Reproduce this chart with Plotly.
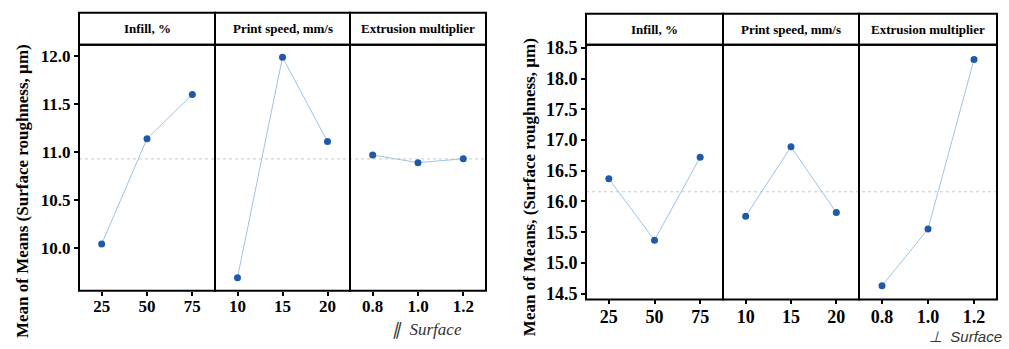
import numpy as np
import plotly.graph_objects as go

# ---------------- data ----------------
factor_names = ["Infill, %", "Print speed, mm/s", "Extrusion multiplier"]
levels_infill = ["25", "50", "75"]
levels_speed = ["10", "15", "20"]
levels_extr = ["0.8", "1.0", "1.2"]

# parallel surface (left chart)
par_infill = [10.04, 11.14, 11.60]
par_speed = [9.69, 11.99, 11.11]
par_extr = [10.97, 10.89, 10.93]

# perpendicular surface (right chart)
perp_infill = [16.37, 15.37, 16.72]
perp_speed = [15.76, 16.89, 15.82]
perp_extr = [14.63, 15.55, 18.31]

left_ticks = [10.0, 10.5, 11.0, 11.5, 12.0]
right_ticks = [14.5, 15.0, 15.5, 16.0, 16.5, 17.0, 17.5, 18.0, 18.5]

W, H = 1009, 349
SERIF = "Liberation Serif"
SANS = "Liberation Sans"
LINE_C = "#9dc3e6"
MARK_C = "#1f5aa8"

fig = go.Figure()


def px_x(v):
    return v / W


def px_y(v):
    return 1 - v / H


charts = [
    dict(panels=[(79, 215), (215, 350), (350, 486)], top=39, bottom=293, hdr_top=6,
         yr=[9.553, 12.12], ticks=left_ticks, data=[par_infill, par_speed, par_extr],
         title="Mean of Means (Surface roughness, µm)", title_x=22, title_y=190,
         tick_size=17, standoff=-4),
    dict(panels=[(586, 723), (723, 859), (859, 997)], top=39, bottom=302, hdr_top=7,
         yr=[14.405, 18.55], ticks=right_ticks, data=[perp_infill, perp_speed, perp_extr],
         title="Mean of Means, (Surface roughness, µm)", title_x=529, title_y=186,
         tick_size=18, standoff=-3),
]
levels = [levels_infill, levels_speed, levels_extr]

ax_i = 0
for ci, ch in enumerate(charts):
    yname = "y" if ci == 0 else "y2"
    ykey = "yaxis" if ci == 0 else "yaxis2"
    first_x = None
    all_vals = []
    for pi, (x0, x1) in enumerate(ch["panels"]):
        ax_i += 1
        xname = "x" if ax_i == 1 else f"x{ax_i}"
        xkey = "xaxis" if ax_i == 1 else f"xaxis{ax_i}"
        if first_x is None:
            first_x = xname
        vals = ch["data"][pi]
        all_vals.extend(vals)
        fig.add_trace(go.Scatter(
            x=levels[pi], y=vals, xaxis=xname, yaxis=yname, mode="lines+markers",
            line=dict(color=LINE_C, width=1), marker=dict(color=MARK_C, size=7),
            showlegend=False, hoverinfo="skip"))
        fig.layout[xkey] = dict(
            domain=[px_x(x0), px_x(x1)], anchor=yname, type="category",
            range=[-0.5, 2.5], showgrid=False, zeroline=False, showline=False,
            ticks="outside", ticklen=4, tickwidth=2, tickcolor="black",
            ticklabelstandoff=ch["standoff"],
            tickfont=dict(family=SERIF, size=ch["tick_size"], color="black", weight="bold"),
            fixedrange=True)
        # panel frame
        fig.add_shape(type="rect", xref=f"{xname} domain", yref=f"{yname} domain",
                      x0=0, x1=1, y0=0, y1=1, line=dict(color="black", width=2))
        # header
        hh = (ch["top"] - ch["hdr_top"]) / (ch["bottom"] - ch["top"])
        fig.add_shape(type="rect", xref=f"{xname} domain", yref=f"{yname} domain",
                      x0=0, x1=1, y0=1, y1=1 + hh, line=dict(color="black", width=2))
        fig.add_annotation(xref=f"{xname} domain", yref=f"{yname} domain",
                           x=0.5, y=1 + hh / 2, text=f"<b>{factor_names[pi]}</b>",
                           showarrow=False, xanchor="center", yanchor="middle",
                           font=dict(family=SERIF, size=13, color="black"))
    fig.layout[ykey] = dict(
        domain=[px_y(ch["bottom"]), px_y(ch["top"])], anchor=first_x,
        range=ch["yr"], tickvals=ch["ticks"], tickformat=".1f",
        showgrid=False, zeroline=False, showline=False,
        ticks="outside", ticklen=4, tickwidth=2, tickcolor="black",
        tickfont=dict(family=SERIF, size=ch["tick_size"], color="black", weight="bold"),
        fixedrange=True)
    grand_mean = float(np.mean(all_vals))
    fig.add_shape(type="line", xref="paper", yref=yname,
                  x0=px_x(ch["panels"][0][0]), x1=px_x(ch["panels"][-1][1]),
                  y0=grand_mean, y1=grand_mean, layer="below",
                  line=dict(color="#c8c8c8", width=1, dash="dot"))
    fig.add_annotation(xref="paper", yref="paper", x=px_x(ch["title_x"]),
                       y=px_y(ch["title_y"]), text=f"<b>{ch['title']}</b>",
                       textangle=-90, showarrow=False, xanchor="center", yanchor="middle",
                       font=dict(family=SERIF, size=17, color="black"))

fig.add_annotation(xref="paper", yref="paper", x=px_x(390), y=px_y(333),
                   text="<i>∥  Surface</i>", showarrow=False, xanchor="left",
                   yanchor="middle", font=dict(family=SERIF, size=17, color="#333333"))
fig.add_annotation(xref="paper", yref="paper", x=px_x(927), y=px_y(340),
                   text="<i>⊥  Surface</i>", showarrow=False, xanchor="left",
                   yanchor="middle", font=dict(family=SANS, size=15, color="#333333"))

fig.update_layout(width=W, height=H, margin=dict(l=0, r=0, t=0, b=0),
                  paper_bgcolor="white", plot_bgcolor="white")
fig.write_html("out.html")
